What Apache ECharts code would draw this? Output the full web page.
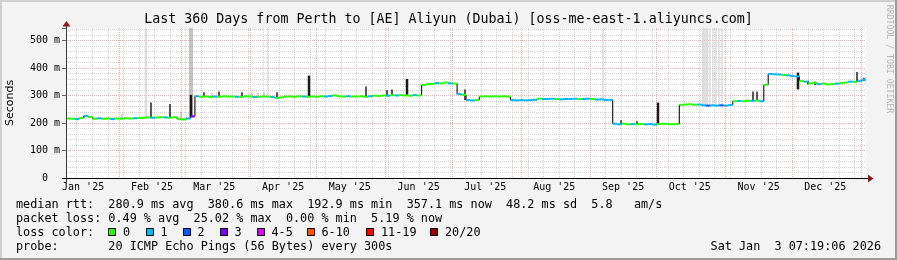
<!DOCTYPE html>
<html><head><meta charset="utf-8">
<script src="https://cdn.jsdelivr.net/npm/echarts@6/dist/echarts.min.js"></script>
<style>html,body{margin:0;padding:0;background:#f3f3f3}#c{width:897px;height:260px}</style>
</head><body><div id="c"></div>
<script>
// ---------------- DATA ----------------
const startTime = '2025-01-08T07:19:06';   // left edge of the graph (360 days before end)
const spanDays = 360;
const stepDays = 2;                          // one median sample every 2 days
const medianMs = [
  216,215,214,218,226,222,215,217,215,216,
  214,216,215,217,216,217,218,219,220,219,
  220,221,220,219,221,214,213,216,224,297,
  295,296,294,296,295,297,296,296,295,294,
  297,296,294,295,296,296,294,291,293,296,
  296,295,297,296,295,296,295,297,296,298,
  300,297,296,297,296,296,297,295,297,299,
  298,300,299,301,300,301,300,299,301,300,
  338,341,342,345,344,347,344,343,305,302,
  283,282,283,296,297,296,297,296,297,296,
  283,282,283,282,283,284,288,287,287,288,
  287,286,287,287,288,287,287,288,287,285,
  286,283,284,197,195,197,195,196,195,196,
  195,196,194,196,197,196,195,196,266,267,
  268,266,267,264,263,264,263,264,263,265,
  279,280,279,281,280,281,279,339,378,377,
  376,374,373,370,369,352,350,344,346,341,
  343,340,341,343,345,347,350,349,352,357
];
// loss colour class per sample: 0 => "0", 1 => "1", 2 => "2", 3 => "3" ...
const lossCode = [
  0,0,1,0,1,0,0,1,0,0, 1,0,0,0,0,1,0,0,0,1, 0,0,1,0,0,0,0,1,3,
  1,0,0,0,1,0,0,0,0,1, 0,0,0,1,0,0,0,1,0,0, 0,0,0,0,1,0,0,0,0,1, 1,0,0,0,1,0,0,0,0,1, 0,0,0,1,0,1,0,0,0,1,0,
  0,0,0,1,0,0,1,0,1,0,
  1,1,0,
  0,0,0,0,0,0,0,
  1,1,1,1,1,1,
  0,1,1,1,0,1,1,1,1,0,1,1,0,1,1,1,1,
  1,1,0,0,1,0,0,1,1,1,0,0,0,0,0,
  0,0,0,0,1,
  1,2,1,1,2,1,1,
  0,1,0,0,1,0,1,
  0,
  1,1,1,0,1,1,1,
  0,1,0,0,1,0,0,0,1,0,0,1,0,1,1
];
// smoke (ping spread) bars: day offset, low ms, high ms, shade class
const smokeDay  = [25.2,36.0,38.3,46.8,51.6,55.8,56.8,56.3,62.1,65.7,68.9,79.2,83.7,86.4,89.1,91.0,95.0,109.4,135.0,144.5,146.7,153.3,179.6,241.7,249.8,257.0,266.4,286.7,287.6,288.5,290.0,291.3,292.6,294.0,295.3,309.3,310.8,329.2,333.9,337.0,355.8,359.0];
const smokeLo   = [216,219,219,219,213,218,218,222,296,296,296,296,296,296,296,296,293,296,297,300,300,300,283,284,196,196,195,264,264,264,264,264,264,264,264,280,280,322,340,338,350,352];
const smokeHi   = [233,545,274,269,241,545,545,302,312,310,314,312,310,310,312,545,312,372,332,320,322,360,322,545,210,206,274,545,545,545,545,545,545,545,545,314,314,383,352,350,385,364];
const smokeTone = [3,5,0,0,3,1,1,4,0,3,0,0,3,3,3,2,0,4,0,0,0,4,0,2,0,0,4,5,2,5,2,2,2,2,2,0,0,4,0,0,0,0];

const monthStarts = ['2025-01-01','2025-02-01','2025-03-01','2025-04-01','2025-05-01','2025-06-01','2025-07-01','2025-08-01','2025-09-01','2025-10-01','2025-11-01','2025-12-01','2026-01-01'];
const monthLabels = ["Jan '25","Feb '25","Mar '25","Apr '25","May '25","Jun '25","Jul '25","Aug '25","Sep '25","Oct '25","Nov '25","Dec '25","Jan '26"];
const firstWeekStart = '2025-01-06';
const yTickValues = [0,100,200,300,400,500];
const yMax = 545;

const lossLegendLabels = ['0','1','2','3','4-5','6-10','11-19','20/20'];
const statsRtt  = 'median rtt:  280.9 ms avg  380.6 ms max  192.9 ms min  357.1 ms now  48.2 ms sd  5.8   am/s';
const statsLoss = 'packet loss: 0.49 % avg  25.02 % max  0.00 % min  5.19 % now';
const lossLabel = 'loss color:';
const probeText = 'probe:       20 ICMP Echo Pings (56 Bytes) every 300s';
const dateText = 'Sat Jan  3 07:19:06 2026';
const titleText = 'Last 360 Days from Perth to [AE] Aliyun (Dubai) [oss-me-east-1.aliyuncs.com]';

// ---------------- STYLE ----------------
const lossColors = ['#26ff00','#00b8ff','#0059ff','#7e00ff','#dd00ff','#ff5500','#ff0000','#a10000'];
const smokeColor = ['#222222','#8a8a8a','#d2d2d2','#a8a8a8','#1a1a1a','#dcdcdc'];
const smokeWidth = [1.5,1,1.2,1,2.5,2.5];
const MONO = '"DejaVu Sans Mono", monospace';

// ---------------- BUILD ----------------
const DAY = 86400000;
const t0 = Date.parse(startTime + 'Z');
const dayOf = s => (Date.parse(s + 'T00:00:00Z') - t0) / DAY;
const monthDays = monthStarts.map(dayOf);
const labelDays = monthDays.map(d => d + 15);
const visLabelDays = labelDays.filter(d => d >= 0 && d <= spanDays);
const weekDays = [];
for (let d = dayOf(firstWeekStart); d <= spanDays; d += 7) if (d >= 0) weekDays.push(d);
const minorWeek = weekDays.filter(w => !monthDays.some(m => Math.abs(m - w) < 0.5));
const majorMonth = monthDays.filter(d => d > 0 && d < spanDays);
const hMajor = yTickValues.filter(v => v > 0);
const hMinor = [];
for (let v = 20; v < yMax; v += 20) if (v % 100 !== 0) hMinor.push(v);

function vLineSeries(days, color, z) {
  return {
    type: 'custom', z, silent: true, clip: true,
    data: days.map(d => [d]), encode: { x: 0 },
    renderItem(params, api) {
      const cs = params.coordSys;
      const x = Math.round(api.coord([api.value(0), 0])[0]) + 0.5;
      return { type: 'line', shape: { x1: x, y1: cs.y, x2: x, y2: cs.y + cs.height },
        style: { stroke: color, lineWidth: 1, lineDash: [1, 1] } };
    }
  };
}
function hLineSeries(vals, color, z) {
  return {
    type: 'custom', z, silent: true, clip: true,
    data: vals.map(v => [0, v]), encode: { x: 0, y: 1 },
    renderItem(params, api) {
      const cs = params.coordSys;
      const y = Math.round(api.coord([0, api.value(1)])[1]) + 0.5;
      return { type: 'line', shape: { x1: cs.x, y1: y, x2: cs.x + cs.width, y2: y },
        style: { stroke: color, lineWidth: 1, lineDash: [1, 1] } };
    }
  };
}

const medianData = medianMs.map((v, i) => [
  i * stepDays, v, Math.min((i + 1) * stepDays, spanDays),
  i + 1 < medianMs.length ? medianMs[i + 1] : v, lossCode[i]
]);
const smokeData = smokeDay.map((d, i) => [d, smokeLo[i], smokeHi[i], smokeTone[i]]);

// graphic elements (frame, titles, legend)
const G = [];
G.push({ type: 'rect', shape: { x: 0, y: 0, width: 897, height: 2 }, style: { fill: '#cfcfcf' }, silent: true });
G.push({ type: 'rect', shape: { x: 0, y: 0, width: 2, height: 260 }, style: { fill: '#cfcfcf' }, silent: true });
G.push({ type: 'rect', shape: { x: 0, y: 258, width: 897, height: 2 }, style: { fill: '#9b9b9b' }, silent: true });
G.push({ type: 'rect', shape: { x: 895, y: 0, width: 2, height: 260 }, style: { fill: '#9b9b9b' }, silent: true });
function txt(text, x, y, font, extra) {
  return Object.assign({ type: 'text', x, y, silent: true, z: 100,
    style: Object.assign({ text, font, fill: '#000', textAlign: 'left', textVerticalAlign: 'middle' }, extra || {}) });
}
G.push(txt(titleText, 448.5, 19.5, '13.3px ' + MONO, { textAlign: 'center' }));
G.push(Object.assign(txt('Seconds', 10.5, 103, '11px "DejaVu Sans", sans-serif', { textAlign: 'center' }), { rotation: Math.PI / 2 }));
G.push(Object.assign(txt('RRDTOOL / TOBI OETIKER', 889, 59, '8.2px ' + MONO, { textAlign: 'center', fill: '#b4b4b4' }), { rotation: -Math.PI / 2 }));
const LF = '11.8px ' + MONO;
G.push(txt(statsRtt, 16, 204.5, LF));
G.push(txt(statsLoss, 16, 218.5, LF));
G.push(txt(lossLabel, 16, 232.5, LF));
const sqX = [108, 145.5, 182.5, 219.5, 256.5, 306.5, 366, 430];
lossLegendLabels.forEach((s, i) => {
  G.push({ type: 'rect', z: 100, silent: true, shape: { x: Math.round(sqX[i]) + 0.5, y: 228.5, width: 7, height: 7 },
    style: { fill: lossColors[i], stroke: '#000', lineWidth: 1 } });
  G.push(txt(s, sqX[i] + 15, 232.5, LF));
});
G.push(txt(probeText, 16, 246.5, LF));
G.push(txt(dateText, 881, 246.5, LF, { textAlign: 'right' }));
// axis lines and arrows
G.push({ type: 'line', z: 90, silent: true, shape: { x1: 66.5, y1: 184, x2: 66.5, y2: 26 }, style: { stroke: '#3a3a3a', lineWidth: 1 } });
G.push({ type: 'line', z: 90, silent: true, shape: { x1: 62, y1: 178.5, x2: 869, y2: 178.5 }, style: { stroke: '#000', lineWidth: 1 } });
G.push({ type: 'polygon', z: 91, silent: true, shape: { points: [[62.5, 26.5], [70.5, 26.5], [66.5, 21]] }, style: { fill: '#8c1c1c' } });
G.push({ type: 'polygon', z: 91, silent: true, shape: { points: [[868, 174.5], [868, 182.5], [873.5, 178.5]] }, style: { fill: '#8c1c1c' } });

const option = {
  animation: false,
  backgroundColor: '#f3f3f3',
  grid: { left: 66, top: 28, width: 800, height: 150, show: true, backgroundColor: '#ffffff', borderWidth: 0 },
  xAxis: {
    type: 'value', min: 0, max: spanDays,
    axisLine: { show: false }, axisTick: { show: false }, splitLine: { show: false },
    axisLabel: {
      customValues: visLabelDays, margin: 4, fontSize: 10, fontFamily: 'DejaVu Sans Mono', color: '#000',
      formatter: v => { let k = 0, b = 1e9; labelDays.forEach((d, i) => { if (Math.abs(d - v) < b) { b = Math.abs(d - v); k = i; } }); return monthLabels[k]; }
    }
  },
  yAxis: {
    type: 'value', min: 0, max: yMax, interval: 100,
    axisLine: { show: false }, axisTick: { show: true, length: 4, lineStyle: { color: '#666' } },
    splitLine: { show: false },
    axisLabel: { margin: 6, fontSize: 10, fontFamily: 'DejaVu Sans Mono', color: '#000', showMaxLabel: true,
      formatter: v => (yTickValues.indexOf(v) < 0 ? '' : (v === 0 ? '0  ' : v + ' m')) }
  },
  series: [
    vLineSeries(minorWeek, '#d2d2d2', 1),
    hLineSeries(hMinor, '#d2d2d2', 1),
    vLineSeries(majorMonth, '#f4aaaa', 2),
    hLineSeries(hMajor, '#f4aaaa', 2),
    {
      type: 'custom', z: 3, silent: true, clip: true,
      data: smokeData, encode: { x: 0, y: [1, 2] },
      renderItem(params, api) {
        const t = api.value(3);
        const a = api.coord([api.value(0), api.value(1)]);
        const b = api.coord([api.value(0), api.value(2)]);
        const w = smokeWidth[t];
        return { type: 'rect', shape: { x: Math.round(a[0]) - w / 2, y: b[1], width: w, height: a[1] - b[1] },
          style: { fill: smokeColor[t] } };
      }
    },
    {
      type: 'custom', z: 4, silent: true, clip: true,
      data: medianData, encode: { x: [0, 2], y: [1, 3] },
      renderItem(params, api) {
        const x0 = api.value(0), v = api.value(1), x1 = api.value(2), vn = api.value(3), lc = api.value(4);
        const p0 = api.coord([x0, v]), p1 = api.coord([x1, v]), p2 = api.coord([x1, vn]);
        return { type: 'group', children: [
          { type: 'line', shape: { x1: p1[0], y1: p1[1], x2: p2[0], y2: p2[1] }, style: { stroke: '#222', lineWidth: 1.2 } },
          { type: 'line', shape: { x1: p0[0], y1: p0[1], x2: p1[0], y2: p1[1] }, style: { stroke: lossColors[lc], lineWidth: 2 } }
        ] };
      }
    }
  ],
  graphic: { elements: G }
};
const chart = echarts.init(document.getElementById('c'), null, { renderer: 'canvas', width: 897, height: 260 });
chart.setOption(option);
</script></body></html>
